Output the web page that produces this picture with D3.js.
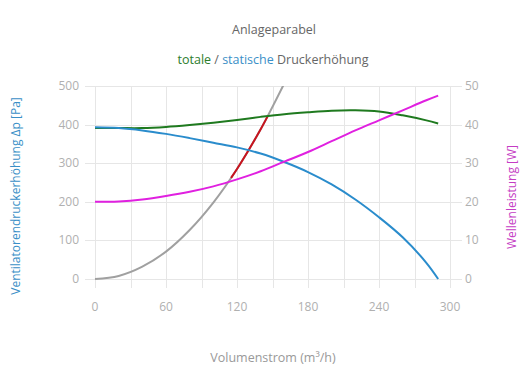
<!DOCTYPE html>
<html>
<head>
<meta charset="utf-8">
<script src="https://cdn.jsdelivr.net/npm/d3@7"></script>
<style>
  body { margin: 0; background: #fff; }
  text { font-family: "Open Sans", "Noto Sans", sans-serif; }
</style>
</head>
<body>
<div id="target"></div>
<script>
let width = 530,
  height = 390,
  margin = { top: 86, right: 80, bottom: 111, left: 95 }

// Volumenstrom (m³/h)
let flow = [0, 20, 40, 60, 80, 100, 120, 140, 160, 180, 200, 220, 240, 260, 280, 290];
// statische Druckerhöhung [Pa]
let staticP = [393, 391, 385, 376, 365, 353, 341, 325, 303, 277, 245, 206, 160, 108, 42, 0];
// totale Druckerhöhung [Pa]
let totalP = [391, 391, 391, 394, 399, 405, 412, 420, 427, 432, 436, 437, 434, 424, 411, 403];
// Wellenleistung [W]
let power = [20.0, 20.1, 20.6, 21.5, 22.6, 24.0, 25.8, 27.9, 30.4, 32.9, 35.7, 38.5, 41.1, 43.7, 46.3, 47.5];
// Anlageparabel
let sysFlow = [0, 20, 40, 60, 80, 100, 120, 140, 160];
let sysP = [0, 8, 32, 71, 127, 198, 285, 388, 507];
// Arbeitsbereich (rot)
let opFlow = [115, 120, 130, 140, 146];
let opP = [262, 285, 335, 388, 422];

let xTicks = [0, 60, 120, 180, 240, 300];
let xGrid = d3.range(0, 301, 30);
let yTicks = [0, 100, 200, 300, 400, 500];
let y2Ticks = [0, 10, 20, 30, 40, 50];

let svg = d3.select("#target").append("svg")
  .attr("width", width)
  .attr("height", height);

let x = d3.scaleLinear().domain([0, 300]).range([margin.left, margin.left + 355]);
let y = d3.scaleLinear().domain([0, 500]).range([279, margin.top]);
let y2 = d3.scaleLinear().domain([0, 50]).range([279, margin.top]);

let grid = svg.append("g").attr("stroke", "#e6e6e6").attr("stroke-width", 1);
grid.selectAll("line.h")
  .data(yTicks)
  .enter().append("line")
  .attr("x1", x(0) - 10)
  .attr("x2", x(300) + 12)
  .attr("y1", d => Math.round(y(d)) + 0.5)
  .attr("y2", d => Math.round(y(d)) + 0.5);
grid.selectAll("line.v")
  .data(xGrid)
  .enter().append("line")
  .attr("x1", d => Math.round(x(d)) + 0.5)
  .attr("x2", d => Math.round(x(d)) + 0.5)
  .attr("y1", y(500))
  .attr("y2", y(0) + 9);

let tickColor = "#b0b0b0";
svg.append("g").selectAll("text")
  .data(yTicks)
  .enter().append("text")
  .attr("x", 79)
  .attr("y", d => y(d) + 4)
  .attr("text-anchor", "end")
  .attr("font-size", 12)
  .attr("fill", tickColor)
  .text(d => d);
svg.append("g").selectAll("text")
  .data(y2Ticks)
  .enter().append("text")
  .attr("x", 465)
  .attr("y", d => y2(d) + 4)
  .attr("font-size", 12)
  .attr("fill", tickColor)
  .text(d => d);
svg.append("g").selectAll("text")
  .data(xTicks)
  .enter().append("text")
  .attr("x", d => x(d))
  .attr("y", 311)
  .attr("text-anchor", "middle")
  .attr("font-size", 12)
  .attr("fill", tickColor)
  .text(d => d);

svg.append("defs").append("clipPath").attr("id", "clip")
  .append("rect")
  .attr("x", x(0) - 2).attr("y", y(500))
  .attr("width", x(300) - x(0) + 4).attr("height", y(0) - y(500) + 3);

let plot = svg.append("g").attr("clip-path", "url(#clip)");

let line = d3.line().x(d => x(d[0])).y(d => y(d[1])).curve(d3.curveCatmullRom);
let line2 = d3.line().x(d => x(d[0])).y(d => y2(d[1])).curve(d3.curveCatmullRom);

plot.append("path")
  .datum(d3.zip(sysFlow, sysP))
  .attr("d", line)
  .attr("fill", "none").attr("stroke", "#a0a0a0").attr("stroke-width", 2);
plot.append("path")
  .datum(d3.zip(opFlow, opP))
  .attr("d", line)
  .attr("fill", "none").attr("stroke", "#c8141e").attr("stroke-width", 2);
plot.append("path")
  .datum(d3.zip(flow, totalP))
  .attr("d", line)
  .attr("fill", "none").attr("stroke", "#1f7a1f").attr("stroke-width", 2);
plot.append("path")
  .datum(d3.zip(flow, staticP))
  .attr("d", line)
  .attr("fill", "none").attr("stroke", "#2a8ccc").attr("stroke-width", 2);
plot.append("path")
  .datum(d3.zip(flow, power))
  .attr("d", line2)
  .attr("fill", "none").attr("stroke", "#e020e0").attr("stroke-width", 2);

svg.append("text")
  .attr("x", 274).attr("y", 34)
  .attr("text-anchor", "middle")
  .attr("font-size", 12.5)
  .attr("fill", "#666")
  .text("Anlageparabel");

let sub = svg.append("text")
  .attr("x", 273).attr("y", 64)
  .attr("text-anchor", "middle")
  .attr("font-size", 12.5)
  .attr("fill", "#666");
sub.append("tspan").attr("fill", "#2d7d2d").text("totale");
sub.append("tspan").text(" / ");
sub.append("tspan").attr("fill", "#3a8fc7").text("statische");
sub.append("tspan").text(" Druckerhöhung");

svg.append("text")
  .attr("x", 273).attr("y", 362)
  .attr("text-anchor", "middle")
  .attr("font-size", 12.5)
  .attr("fill", "#999")
  .text("Volumenstrom (m³/h)");

svg.append("text")
  .attr("transform", "translate(20,196) rotate(-90)")
  .attr("text-anchor", "middle")
  .attr("font-size", 12)
  .attr("fill", "#3a8fc7")
  .text("Ventilatorendruckerhöhung Δp [Pa]");

svg.append("text")
  .attr("transform", "translate(516,197) rotate(-90)")
  .attr("text-anchor", "middle")
  .attr("font-size", 12)
  .attr("fill", "#c43cc4")
  .text("Wellenleistung [W]");
</script>
</body>
</html>
